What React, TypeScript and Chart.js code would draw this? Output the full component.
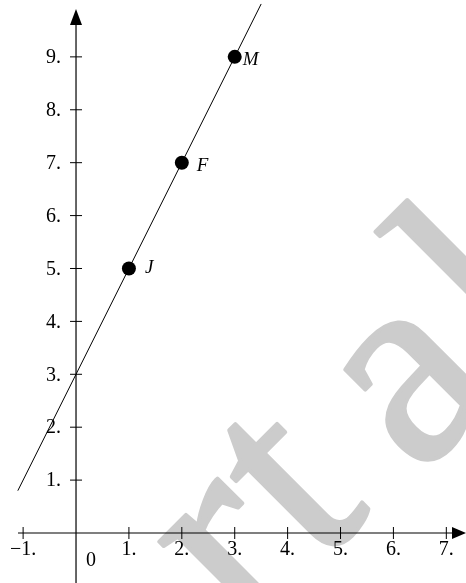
import React, { useEffect, useRef } from "react";
import { Chart, registerables } from "chart.js";

Chart.register(...registerables);

// ---- data ----
const xTickValues = [-1, 1, 2, 3, 4, 5, 6, 7];
const xTickLabels = ["\u22121.", "1.", "2.", "3.", "4.", "5.", "6.", "7."];
const yTickValues = [1, 2, 3, 4, 5, 6, 7, 8, 9];
const yTickLabels = ["1.", "2.", "3.", "4.", "5.", "6.", "7.", "8.", "9."];
const originLabel = "0";

const lineX = [-1.1, 3.5];
const lineY = [0.8, 10.0];

const pointNames = ["J", "F", "M"];
const pointX = [1, 2, 3];
const pointY = [5, 7, 9];

const watermarkLetters = ["r", "t", "a", "l"];

// ---- style ----
const labelOffsets = [
  [16, 0],
  [15, 3],
  [8, 3],
];
const watermarkPos = [-276, -176, -42, 96];
const watermarkDy = [0, 0, 8, 0];

const FONT = '"Liberation Serif", "DejaVu Serif", serif';

const axesPlugin = {
  id: "customAxes",
  beforeDatasetsDraw(chart: any) {
    const ctx = chart.ctx;
    const xs = chart.scales.x;
    const ys = chart.scales.y;
    const W = chart.width;
    const H = chart.height;
    // watermark
    ctx.save();
    ctx.translate(442, 442);
    ctx.rotate(-Math.PI / 4);
    ctx.fillStyle = "#cccccc";
    ctx.strokeStyle = "#cccccc";
    ctx.lineWidth = 4;
    ctx.lineJoin = "round";
    ctx.font = "282px " + FONT;
    ctx.textBaseline = "alphabetic";
    ctx.textAlign = "left";
    watermarkLetters.forEach((l, i) => {
      ctx.fillText(l, watermarkPos[i], watermarkDy[i]);
      ctx.strokeText(l, watermarkPos[i], watermarkDy[i]);
    });
    ctx.restore();

    const x0 = xs.getPixelForValue(0);
    const y0 = ys.getPixelForValue(0);
    ctx.save();
    ctx.strokeStyle = "#000";
    ctx.fillStyle = "#000";
    ctx.lineWidth = 1.2;
    // x axis
    ctx.beginPath();
    ctx.moveTo(18, y0);
    ctx.lineTo(W - 10, y0);
    ctx.stroke();
    ctx.beginPath();
    ctx.moveTo(W, y0);
    ctx.lineTo(W - 14, y0 - 6);
    ctx.lineTo(W - 14, y0 + 6);
    ctx.closePath();
    ctx.fill();
    // y axis
    ctx.beginPath();
    ctx.moveTo(x0, H);
    ctx.lineTo(x0, 20);
    ctx.stroke();
    ctx.beginPath();
    ctx.moveTo(x0, 9);
    ctx.lineTo(x0 - 6, 25);
    ctx.lineTo(x0 + 6, 25);
    ctx.closePath();
    ctx.fill();
    // ticks
    ctx.lineWidth = 1;
    ctx.font = "20px " + FONT;
    ctx.textAlign = "center";
    ctx.textBaseline = "middle";
    xTickValues.forEach((v, i) => {
      const px = xs.getPixelForValue(v);
      ctx.beginPath();
      ctx.moveTo(px, y0 - 6);
      ctx.lineTo(px, y0 + 6);
      ctx.stroke();
      ctx.fillText(xTickLabels[i], px, y0 + 17);
    });
    ctx.textAlign = "right";
    yTickValues.forEach((v, i) => {
      const py = ys.getPixelForValue(v);
      ctx.beginPath();
      ctx.moveTo(x0 - 6, py);
      ctx.lineTo(x0 + 6, py);
      ctx.stroke();
      ctx.fillText(yTickLabels[i], x0 - 15, py + 1);
    });
    ctx.textAlign = "center";
    ctx.fillText(originLabel, x0 + 15, y0 + 28);
    ctx.restore();
  },
  afterDatasetsDraw(chart: any) {
    const ctx = chart.ctx;
    const xs = chart.scales.x;
    const ys = chart.scales.y;
    ctx.save();
    ctx.fillStyle = "#000";
    ctx.font = "italic 19px " + FONT;
    ctx.textAlign = "left";
    ctx.textBaseline = "middle";
    pointNames.forEach((n, i) => {
      const px = xs.getPixelForValue(pointX[i]);
      const py = ys.getPixelForValue(pointY[i]);
      ctx.fillText(n, px + labelOffsets[i][0], py + labelOffsets[i][1]);
    });
    ctx.restore();
  },
};

export default function App() {
  const ref = useRef<HTMLCanvasElement>(null);
  useEffect(() => {
    if (!ref.current) return;
    const chart = new Chart(ref.current, {
      type: "scatter",
      data: {
        datasets: [
          {
            data: lineX.map((x, i) => ({ x, y: lineY[i] })),
            showLine: true,
            borderColor: "#000",
            borderWidth: 1,
            pointRadius: 0,
          },
          {
            data: pointX.map((x, i) => ({ x, y: pointY[i] })),
            pointRadius: 7,
            pointBackgroundColor: "#000",
            pointBorderColor: "#000",
            borderWidth: 0,
          },
        ],
      },
      options: {
        responsive: false,
        animation: false,
        layout: { padding: 0, autoPadding: false },
        plugins: { legend: { display: false }, tooltip: { enabled: false } },
        scales: {
          x: { type: "linear", min: -1.437, max: 7.372, display: false },
          y: { type: "linear", min: -0.945, max: 10.075, display: false },
        },
      },
      plugins: [axesPlugin],
    });
    return () => chart.destroy();
  }, []);
  return (
    <div style={{ position: "absolute", left: 0, top: 0, width: 466, height: 583, background: "#fff" }}>
      <canvas ref={ref} width={466} height={583} />
    </div>
  );
}
